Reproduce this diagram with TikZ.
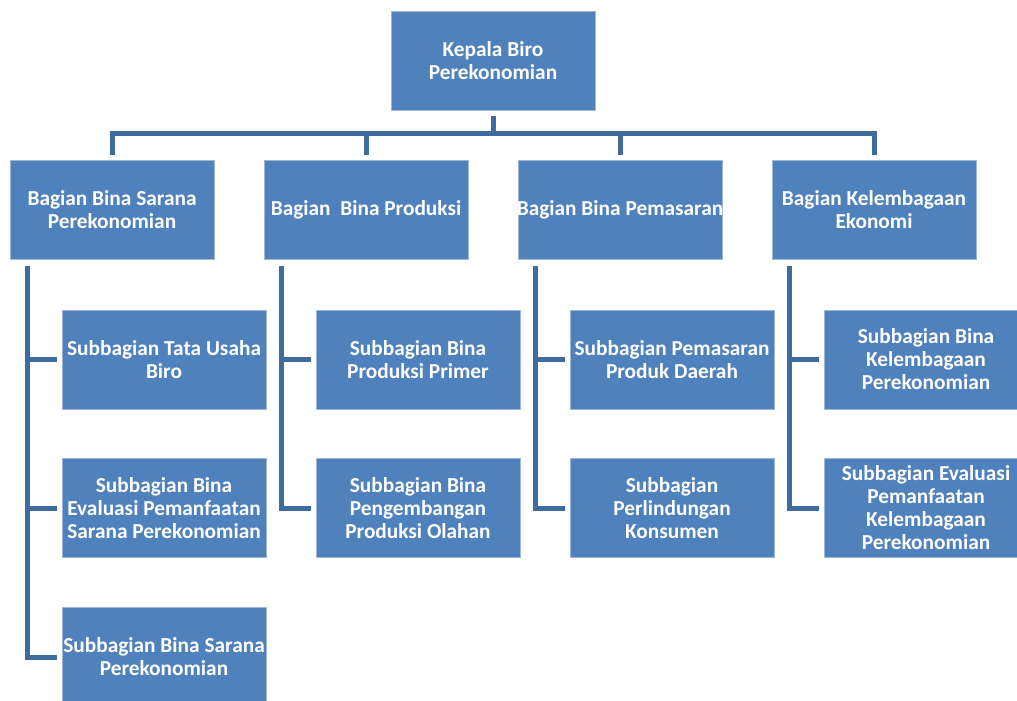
\documentclass[tikz,border=0pt]{standalone}
\usepackage{fontspec}
\setmainfont{Carlito}
\usetikzlibrary{calc}
\definecolor{boxblue}{HTML}{4F81BD}
\definecolor{boxedge}{HTML}{9DB6DA}
\definecolor{connblue}{HTML}{3F6C9E}
\begin{document}
\begin{tikzpicture}[x=0.75pt,y=-0.75pt,
  orgbox/.style={rectangle, fill=boxblue, draw=boxedge, line width=0.6pt,
    minimum width=153pt, minimum height=74.25pt, inner sep=0pt,
    text=white, align=center, font=\fontsize{16}{17.25}\selectfont\bfseries},
  conn/.style={draw=connblue, line width=3.75pt, line join=miter, line cap=butt}]
\clip (0,0) rectangle (1017,700);
\fill[white] (0,0) rectangle (1017,700);

\node[orgbox] (top) at (493,60.5) {Kepala Biro\\Perekonomian};

\node[orgbox] (b1) at (112,210) {Bagian Bina Sarana\\Perekonomian};
\node[orgbox] (b2) at (366,210) {Bagian\ \ Bina Produksi};
\node[orgbox] (b3) at (620,210) {\makebox[0pt]{Bagian Bina Pemasaran}};
\node[orgbox] (b4) at (874,210) {Bagian Kelembagaan\\Ekonomi};

\node[orgbox] (c11) at (164,359.5) {Subbagian Tata Usaha\\Biro};
\node[orgbox] (c12) at (164,508) {Subbagian Bina\\Evaluasi Pemanfaatan\\Sarana Perekonomian};
\node[orgbox] (c13) at (164,657) {Subbagian Bina Sarana\\Perekonomian};

\node[orgbox] (c21) at (418,359.5) {Subbagian Bina\\Produksi Primer};
\node[orgbox] (c22) at (418,508) {Subbagian Bina\\Pengembangan\\Produksi Olahan};

\node[orgbox] (c31) at (672,359.5) {Subbagian Pemasaran\\Produk Daerah};
\node[orgbox] (c32) at (672,508) {Subbagian\\Perlindungan\\Konsumen};

\node[orgbox] (c41) at (926,359.5) {Subbagian Bina\\Kelembagaan\\Perekonomian};
\node[orgbox] (c42) at (926,508) {Subbagian Evaluasi\\Pemanfaatan\\Kelembagaan\\Perekonomian};

% top level connectors
\draw[conn] ($(top.south)+(0,6)$) -- ($(top.south)+(0,23)$);
\draw[conn] ($(b1.north)+(0,-5)$) |- ($(b4.north)+(0,-27)$) -- ($(b4.north)+(0,-5)$);
\draw[conn] ($(b2.north)+(0,-5)$) -- ($(b2.north)+(0,-27)$);
\draw[conn] ($(b3.north)+(0,-5)$) -- ($(b3.north)+(0,-27)$);

% column connectors
\coordinate (v1) at ($(b1.south west)+(18,6)$);
\draw[conn] (v1) |- ($(c13.west)+(-5,0)$);
\draw[conn] (v1) |- ($(c11.west)+(-5,0)$);
\draw[conn] (v1) |- ($(c12.west)+(-5,0)$);

\coordinate (v2) at ($(b2.south west)+(18,6)$);
\draw[conn] (v2) |- ($(c22.west)+(-5,0)$);
\draw[conn] (v2) |- ($(c21.west)+(-5,0)$);

\coordinate (v3) at ($(b3.south west)+(18,6)$);
\draw[conn] (v3) |- ($(c32.west)+(-5,0)$);
\draw[conn] (v3) |- ($(c31.west)+(-5,0)$);

\coordinate (v4) at ($(b4.south west)+(18,6)$);
\draw[conn] (v4) |- ($(c42.west)+(-5,0)$);
\draw[conn] (v4) |- ($(c41.west)+(-5,0)$);
\end{tikzpicture}
\end{document}
